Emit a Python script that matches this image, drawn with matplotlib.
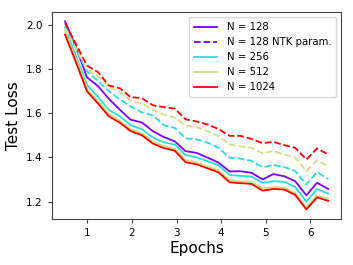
import matplotlib
matplotlib.use("Agg")
import matplotlib.pyplot as plt
from matplotlib.lines import Line2D
import numpy as np

epochs = [0.50, 0.75, 0.99, 1.24, 1.48, 1.73, 1.97, 2.22, 2.47, 2.71, 2.96, 3.20, 3.45,
          3.70, 3.94, 4.19, 4.43, 4.68, 4.93, 5.17, 5.42, 5.66, 5.91, 6.15, 6.40]

# standard parameterization
loss_128 = [2.015, 1.895, 1.762, 1.722, 1.665, 1.615, 1.570, 1.558, 1.518, 1.492, 1.472, 1.428, 1.420,
            1.398, 1.376, 1.336, 1.337, 1.330, 1.300, 1.324, 1.314, 1.292, 1.228, 1.285, 1.257]
loss_256 = [1.985, 1.855, 1.728, 1.672, 1.615, 1.585, 1.545, 1.527, 1.489, 1.468, 1.458, 1.410, 1.400,
            1.382, 1.364, 1.320, 1.316, 1.313, 1.284, 1.292, 1.289, 1.265, 1.200, 1.256, 1.236]
loss_512 = [1.972, 1.840, 1.710, 1.654, 1.597, 1.566, 1.528, 1.509, 1.471, 1.451, 1.439, 1.387, 1.377,
            1.359, 1.341, 1.296, 1.292, 1.289, 1.258, 1.266, 1.263, 1.239, 1.173, 1.228, 1.212]
loss_1024 = [1.955, 1.827, 1.699, 1.643, 1.586, 1.556, 1.519, 1.500, 1.462, 1.442, 1.430, 1.378, 1.368,
             1.350, 1.332, 1.287, 1.283, 1.280, 1.249, 1.257, 1.254, 1.230, 1.164, 1.219, 1.203]

# NTK parameterization
ntk_256 = [1.995, 1.890, 1.789, 1.744, 1.699, 1.661, 1.631, 1.603, 1.590, 1.545, 1.533, 1.486, 1.481,
           1.466, 1.443, 1.398, 1.394, 1.384, 1.355, 1.365, 1.356, 1.338, 1.277, 1.333, 1.302]
ntk_512 = [1.985, 1.890, 1.797, 1.767, 1.718, 1.694, 1.655, 1.645, 1.615, 1.593, 1.580, 1.544, 1.536,
           1.518, 1.496, 1.458, 1.450, 1.443, 1.418, 1.428, 1.413, 1.398, 1.338, 1.386, 1.360]
ntk_1024 = [2.007, 1.910, 1.815, 1.785, 1.725, 1.712, 1.672, 1.668, 1.635, 1.627, 1.620, 1.572, 1.562,
            1.548, 1.528, 1.497, 1.497, 1.483, 1.464, 1.470, 1.455, 1.443, 1.390, 1.440, 1.413]

widths = [128, 256, 512, 1024]
colors = plt.cm.rainbow(np.linspace(0, 1, 4))

fig = plt.figure(figsize=(3.53, 2.65), dpi=100)
ax = fig.add_axes([0.147, 0.174, 0.820, 0.781])

lw = 1.3
for loss, c in zip([loss_128, loss_256, loss_512, loss_1024], colors):
    ax.plot(epochs, loss, color=c, lw=lw)
for loss, c in zip([ntk_256, ntk_512, ntk_1024], colors[1:]):
    ax.plot(epochs, loss, color=c, lw=lw, ls="--")

handles = [
    Line2D([], [], color=colors[0], lw=lw, label="N = 128"),
    Line2D([], [], color=colors[0], lw=lw, ls="--", label="N = 128 NTK param."),
    Line2D([], [], color=colors[1], lw=lw, label="N = 256"),
    Line2D([], [], color=colors[2], lw=lw, label="N = 512"),
    Line2D([], [], color=colors[3], lw=lw, label="N = 1024"),
]
ax.legend(handles=handles, loc="upper right", fontsize=7.3, handlelength=2.3,
          handletextpad=0.9, labelspacing=0.5, borderpad=0.5)

ax.set_xticks([1, 2, 3, 4, 5, 6])
ax.set_yticks([1.2, 1.4, 1.6, 1.8, 2.0])
ax.tick_params(labelsize=7.5, length=3, color="#444444")
for s in ax.spines.values():
    s.set_color("#444444")
ax.set_xlabel("Epochs", fontsize=11, labelpad=2)
ax.set_ylabel("Test Loss", fontsize=11, labelpad=4)

fig.savefig("out.png", dpi=100)
